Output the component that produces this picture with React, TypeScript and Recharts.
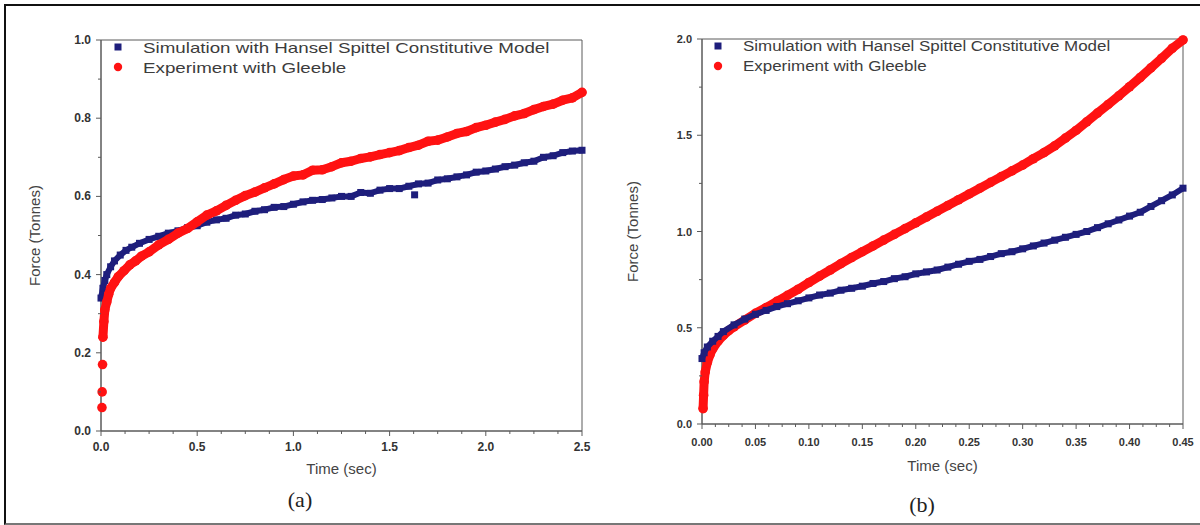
import { ScatterChart, Scatter, XAxis, YAxis, Legend, ReferenceArea } from "recharts";

const SIM_NAME = "Simulation with Hansel Spittel Constitutive Model";
const EXP_NAME = "Experiment with Gleeble";

const SIM_COLOR = "#1e1e7c";
const EXP_COLOR = "#ff1212";
const AXIS = "#5a5a5a";

// ---- panel (a) ----
const A_SIM_TIME = [0.0, 0.01, 0.02, 0.03, 0.05, 0.07, 0.1, 0.13, 0.16, 0.2, 0.25, 0.3, 0.35, 0.4, 0.45, 0.5, 0.55, 0.6, 0.65, 0.7, 0.75, 0.8, 0.85, 0.9, 0.95, 1.0, 1.05, 1.1, 1.15, 1.2, 1.25, 1.3, 1.35, 1.4, 1.45, 1.5, 1.55, 1.6, 1.65, 1.7, 1.75, 1.8, 1.85, 1.9, 1.95, 2.0, 2.05, 2.1, 2.15, 2.2, 2.25, 2.3, 2.35, 2.4, 2.45, 2.5];
const A_SIM_FORCE = [0.34, 0.365, 0.385, 0.4, 0.42, 0.435, 0.45, 0.462, 0.47, 0.48, 0.49, 0.498, 0.506, 0.512, 0.52, 0.525, 0.534, 0.54, 0.544, 0.552, 0.555, 0.562, 0.566, 0.572, 0.574, 0.58, 0.586, 0.59, 0.592, 0.596, 0.6, 0.6, 0.61, 0.608, 0.616, 0.62, 0.62, 0.626, 0.632, 0.634, 0.642, 0.645, 0.65, 0.655, 0.662, 0.665, 0.67, 0.676, 0.68, 0.686, 0.69, 0.7, 0.704, 0.712, 0.716, 0.718];
const A_SIM_STRAY_TIME = [1.63];
const A_SIM_STRAY_FORCE = [0.604];

const A_EXP_TIME = [0.01, 0.015, 0.02, 0.03, 0.04, 0.05, 0.07, 0.09, 0.12, 0.15, 0.18, 0.21, 0.25, 0.3, 0.35, 0.4, 0.45, 0.5, 0.55, 0.6, 0.65, 0.7, 0.75, 0.8, 0.85, 0.9, 0.95, 1.0, 1.05, 1.1, 1.15, 1.2, 1.25, 1.3, 1.35, 1.4, 1.45, 1.5, 1.55, 1.6, 1.65, 1.7, 1.75, 1.8, 1.85, 1.9, 1.95, 2.0, 2.05, 2.1, 2.15, 2.2, 2.25, 2.3, 2.35, 2.4, 2.45, 2.5];
const A_EXP_FORCE = [0.24, 0.28, 0.31, 0.33, 0.35, 0.365, 0.38, 0.395, 0.41, 0.425, 0.435, 0.447, 0.458, 0.476, 0.49, 0.506, 0.518, 0.535, 0.552, 0.563, 0.577, 0.59, 0.602, 0.611, 0.622, 0.632, 0.643, 0.652, 0.655, 0.667, 0.668, 0.676, 0.686, 0.69, 0.697, 0.701, 0.707, 0.712, 0.717, 0.725, 0.731, 0.741, 0.744, 0.752, 0.761, 0.766, 0.776, 0.782, 0.79, 0.797, 0.806, 0.812, 0.822, 0.83, 0.836, 0.846, 0.852, 0.866];
const A_EXP_START_TIME = [0.005, 0.006, 0.008];
const A_EXP_START_FORCE = [0.06, 0.1, 0.17];

const A_X_TICKS = [0, 0.125, 0.25, 0.375, 0.5, 0.625, 0.75, 0.875, 1, 1.125, 1.25, 1.375, 1.5, 1.625, 1.75, 1.875, 2, 2.125, 2.25, 2.375, 2.5];
const A_X_MAJOR = [0, 0.5, 1, 1.5, 2, 2.5];
const A_Y_TICKS = [0, 0.1, 0.2, 0.3, 0.4, 0.5, 0.6, 0.7, 0.8, 0.9, 1];
const A_Y_MAJOR = [0, 0.2, 0.4, 0.6, 0.8, 1];

// ---- panel (b) ----
const B_SIM_TIME = [0, 0.002, 0.005, 0.01, 0.015, 0.02, 0.03, 0.04, 0.05, 0.06, 0.07, 0.08, 0.09, 0.1, 0.11, 0.12, 0.13, 0.14, 0.15, 0.16, 0.17, 0.18, 0.19, 0.2, 0.21, 0.22, 0.23, 0.24, 0.25, 0.26, 0.27, 0.28, 0.29, 0.3, 0.31, 0.32, 0.33, 0.34, 0.35, 0.36, 0.37, 0.38, 0.39, 0.4, 0.41, 0.42, 0.43, 0.44, 0.45];
const B_SIM_FORCE = [0.34, 0.37, 0.4, 0.43, 0.455, 0.48, 0.515, 0.545, 0.57, 0.59, 0.61, 0.625, 0.64, 0.655, 0.67, 0.68, 0.695, 0.705, 0.716, 0.73, 0.74, 0.755, 0.765, 0.78, 0.79, 0.8, 0.815, 0.83, 0.845, 0.855, 0.87, 0.885, 0.895, 0.91, 0.925, 0.94, 0.955, 0.97, 0.985, 1.0, 1.02, 1.04, 1.06, 1.08, 1.1, 1.13, 1.16, 1.19, 1.225];

const B_EXP_TIME = [0.001, 0.0015, 0.002, 0.003, 0.005, 0.0075, 0.01, 0.015, 0.02, 0.025, 0.03, 0.04, 0.05, 0.06, 0.07, 0.08, 0.09, 0.1, 0.11, 0.12, 0.13, 0.14, 0.15, 0.16, 0.17, 0.18, 0.19, 0.2, 0.21, 0.22, 0.23, 0.24, 0.25, 0.26, 0.27, 0.28, 0.29, 0.3, 0.31, 0.32, 0.33, 0.34, 0.35, 0.36, 0.37, 0.38, 0.39, 0.4, 0.41, 0.42, 0.43, 0.44, 0.45];
const B_EXP_FORCE = [0.08, 0.15, 0.22, 0.27, 0.32, 0.36, 0.39, 0.43, 0.46, 0.485, 0.505, 0.54, 0.575, 0.605, 0.637, 0.668, 0.7, 0.735, 0.768, 0.8, 0.833, 0.865, 0.895, 0.925, 0.955, 0.985, 1.015, 1.045, 1.075, 1.105, 1.135, 1.165, 1.195, 1.225, 1.255, 1.285, 1.315, 1.345, 1.378, 1.41, 1.445, 1.485, 1.525, 1.57, 1.615, 1.66, 1.705, 1.752, 1.8, 1.85, 1.9, 1.952, 1.995];

const B_X_TICKS = [0, 0.0125, 0.025, 0.0375, 0.05, 0.0625, 0.075, 0.0875, 0.1, 0.1125, 0.125, 0.1375, 0.15, 0.1625, 0.175, 0.1875, 0.2, 0.2125, 0.225, 0.2375, 0.25, 0.2625, 0.275, 0.2875, 0.3, 0.3125, 0.325, 0.3375, 0.35, 0.3625, 0.375, 0.3875, 0.4, 0.4125, 0.425, 0.4375, 0.45];
const B_X_MAJOR = [0, 0.05, 0.1, 0.15, 0.2, 0.25, 0.3, 0.35, 0.4, 0.45];
const B_Y_TICKS = [0, 0.25, 0.5, 0.75, 1, 1.25, 1.5, 1.75, 2];
const B_Y_MAJOR = [0, 0.5, 1, 1.5, 2];

const toPoints = (time: number[], force: number[]) =>
  time.map((t, i) => ({ t, f: force[i] }));

const isMajor = (v: number, majors: number[]) =>
  majors.some((m) => Math.abs(m - v) < 1e-6);

function XTick(props: any) {
  const { x, y, payload, majors, digits, fontSize, dy } = props;
  const major = isMajor(payload.value, majors);
  return (
    <g>
      <line x1={x} x2={x} y1={y} y2={y + (major ? 5 : 3)} stroke={AXIS} />
      {major && (
        <text x={x} y={y + dy} textAnchor="middle" fontSize={fontSize} fontWeight="bold" fill="#333">
          {payload.value.toFixed(digits)}
        </text>
      )}
    </g>
  );
}

function YTick(props: any) {
  const { x, y, payload, majors, fontSize } = props;
  const major = isMajor(payload.value, majors);
  return (
    <g>
      <line x1={x} x2={x - (major ? 5 : 3)} y1={y} y2={y} stroke={AXIS} />
      {major && (
        <text x={x - 10} y={y + 4} textAnchor="end" fontSize={fontSize} fontWeight="bold" fill="#333">
          {payload.value.toFixed(1)}
        </text>
      )}
    </g>
  );
}

function LegendBox({ payload, fontSize, scale }: { payload?: any[]; fontSize: number; scale: number }) {
  const rank = (p: any) => (p.value === SIM_NAME ? 0 : 1);
  const items = (payload ?? []).filter((p) => p.type !== "none").sort((a, b) => rank(a) - rank(b));
  return (
    <div>
      {items.map((item) => (
        <div key={item.value} style={{ display: "flex", alignItems: "center", height: 20 }}>
          <svg width={12} height={12} style={{ marginRight: 19, flexShrink: 0 }}>
            {item.type === "square" ? (
              <rect x={2.5} y={2.5} width={7} height={7} fill={item.color} />
            ) : (
              <circle cx={6} cy={6} r={4.2} fill={item.color} />
            )}
          </svg>
          <span
            style={{
              fontSize,
              color: "#3c3c3c",
              display: "inline-block",
              whiteSpace: "nowrap",
              transform: `scaleX(${scale})`,
              transformOrigin: "left center",
            }}
          >
            {item.value}
          </span>
        </div>
      ))}
    </div>
  );
}

const simShape = (p: any) => (
  <rect x={p.cx - 3.5} y={p.cy - 3.5} width={7} height={7} fill={SIM_COLOR} />
);
const expShape = (p: any) => <circle cx={p.cx} cy={p.cy} r={4.8} fill={EXP_COLOR} />;

interface PanelProps {
  left: number;
  margin: { top: number; right: number; bottom: number; left: number };
  yWidth: number;
  xDomain: [number, number];
  yDomain: [number, number];
  xTicks: number[];
  xMajor: number[];
  yTicks: number[];
  yMajor: number[];
  xDigits: number;
  tickFont: number;
  tickDy: number;
  xLabelOffset: number;
  yLabelOffset: number;
  legendTop: number;
  legendFont: number;
  legendScale: number;
  sim: { t: number; f: number }[];
  exp: { t: number; f: number }[];
  simDots?: { t: number; f: number }[];
  expDots?: { t: number; f: number }[];
  simOnTop: boolean;
}

function Panel(p: PanelProps) {
  const simSeries = (
    <Scatter
      key="sim"
      name={SIM_NAME}
      data={p.sim}
      fill={SIM_COLOR}
      legendType="square"
      shape={simShape}
      line={{ stroke: SIM_COLOR, strokeWidth: 6, strokeLinejoin: "round", strokeLinecap: "round" }}
      isAnimationActive={false}
    />
  );
  const expSeries = (
    <Scatter
      key="exp"
      name={EXP_NAME}
      data={p.exp}
      fill={EXP_COLOR}
      legendType="circle"
      shape={expShape}
      line={{ stroke: EXP_COLOR, strokeWidth: 9, strokeLinejoin: "round", strokeLinecap: "round" }}
      isAnimationActive={false}
    />
  );
  return (
    <div style={{ position: "absolute", left: p.left, top: 0 }}>
      <ScatterChart width={600} height={525} margin={p.margin}>
        <XAxis
          type="number"
          dataKey="t"
          domain={p.xDomain}
          ticks={p.xTicks}
          interval={0}
          height={30}
          tickSize={0}
          tickMargin={0}
          axisLine={{ stroke: AXIS }}
          tickLine={false}
          tick={(tp: any) => (
            <XTick {...tp} majors={p.xMajor} digits={p.xDigits} fontSize={p.tickFont} dy={p.tickDy} />
          )}
          label={{
            value: "Time (sec)",
            position: "bottom",
            offset: p.xLabelOffset,
            fill: "#444",
            style: { fontSize: 15 },
          }}
        />
        <YAxis
          type="number"
          dataKey="f"
          domain={p.yDomain}
          ticks={p.yTicks}
          interval={0}
          width={p.yWidth}
          tickSize={0}
          tickMargin={0}
          axisLine={{ stroke: AXIS }}
          tickLine={false}
          tick={(tp: any) => <YTick {...tp} majors={p.yMajor} fontSize={p.tickFont} />}
          label={{
            value: "Force (Tonnes)",
            angle: -90,
            position: "insideLeft",
            offset: p.yLabelOffset,
            fill: "#444",
            style: { textAnchor: "middle", fontSize: 15 },
          }}
        />
        <ReferenceArea
          x1={p.xDomain[0]}
          x2={p.xDomain[1]}
          y1={p.yDomain[0]}
          y2={p.yDomain[1]}
          fill="none"
          stroke={AXIS}
          strokeWidth={1}
        />
        <Legend
          layout="vertical"
          align="center"
          verticalAlign="middle"
          wrapperStyle={{ top: p.legendTop, left: 112, width: "auto" }}
          content={(lp: any) => <LegendBox payload={lp.payload} fontSize={p.legendFont} scale={p.legendScale} />}
        />
        {p.simOnTop ? [expSeries, simSeries] : [simSeries, expSeries]}
        {p.simDots && (
          <Scatter data={p.simDots} fill={SIM_COLOR} legendType="none" shape={simShape} isAnimationActive={false} />
        )}
        {p.expDots && (
          <Scatter data={p.expDots} fill={EXP_COLOR} legendType="none" shape={expShape} isAnimationActive={false} />
        )}
      </ScatterChart>
    </div>
  );
}

export default function App() {
  return (
    <div
      style={{
        position: "absolute",
        left: 0,
        top: 0,
        width: 1200,
        height: 525,
        background: "#fff",
        overflow: "hidden",
        fontFamily: "'Liberation Sans', Arial, sans-serif",
      }}
    >
      <div
        style={{
          position: "absolute",
          left: 4,
          top: 4,
          width: 1210,
          height: 521,
          boxSizing: "border-box",
          borderTop: "2px solid #111",
          borderLeft: "2px solid #111",
          borderBottom: "2px solid #777",
        }}
      />
      <Panel
        left={0}
        margin={{ top: 40, right: 18, bottom: 64, left: 20 }}
        yWidth={81}
        xDomain={[0, 2.5]}
        yDomain={[0, 1]}
        xTicks={A_X_TICKS}
        xMajor={A_X_MAJOR}
        yTicks={A_Y_TICKS}
        yMajor={A_Y_MAJOR}
        xDigits={1}
        tickFont={12}
        tickDy={20}
        xLabelOffset={2}
        yLabelOffset={15}
        legendTop={37}
        legendFont={15}
        legendScale={1.25}
        sim={toPoints(A_SIM_TIME, A_SIM_FORCE)}
        exp={toPoints(A_EXP_TIME, A_EXP_FORCE)}
        simDots={toPoints(A_SIM_STRAY_TIME, A_SIM_STRAY_FORCE)}
        expDots={toPoints(A_EXP_START_TIME, A_EXP_START_FORCE)}
        simOnTop={false}
      />
      <Panel
        left={600}
        margin={{ top: 39, right: 17, bottom: 71, left: 20 }}
        yWidth={82}
        xDomain={[0, 0.45]}
        yDomain={[0, 2]}
        xTicks={B_X_TICKS}
        xMajor={B_X_MAJOR}
        yTicks={B_Y_TICKS}
        yMajor={B_Y_MAJOR}
        xDigits={2}
        tickFont={11}
        tickDy={22}
        xLabelOffset={6}
        yLabelOffset={13}
        legendTop={36}
        legendFont={14}
        legendScale={1.21}
        sim={toPoints(B_SIM_TIME, B_SIM_FORCE)}
        exp={toPoints(B_EXP_TIME, B_EXP_FORCE)}
        simOnTop={true}
      />
      <div
        style={{
          position: "absolute",
          left: 300,
          top: 487,
          transform: "translateX(-50%)",
          fontFamily: "'Liberation Serif', 'DejaVu Serif', serif",
          fontSize: 22,
          color: "#222",
        }}
      >
        (a)
      </div>
      <div
        style={{
          position: "absolute",
          left: 922,
          top: 492,
          transform: "translateX(-50%)",
          fontFamily: "'Liberation Serif', 'DejaVu Serif', serif",
          fontSize: 22,
          color: "#222",
        }}
      >
        (b)
      </div>
    </div>
  );
}
